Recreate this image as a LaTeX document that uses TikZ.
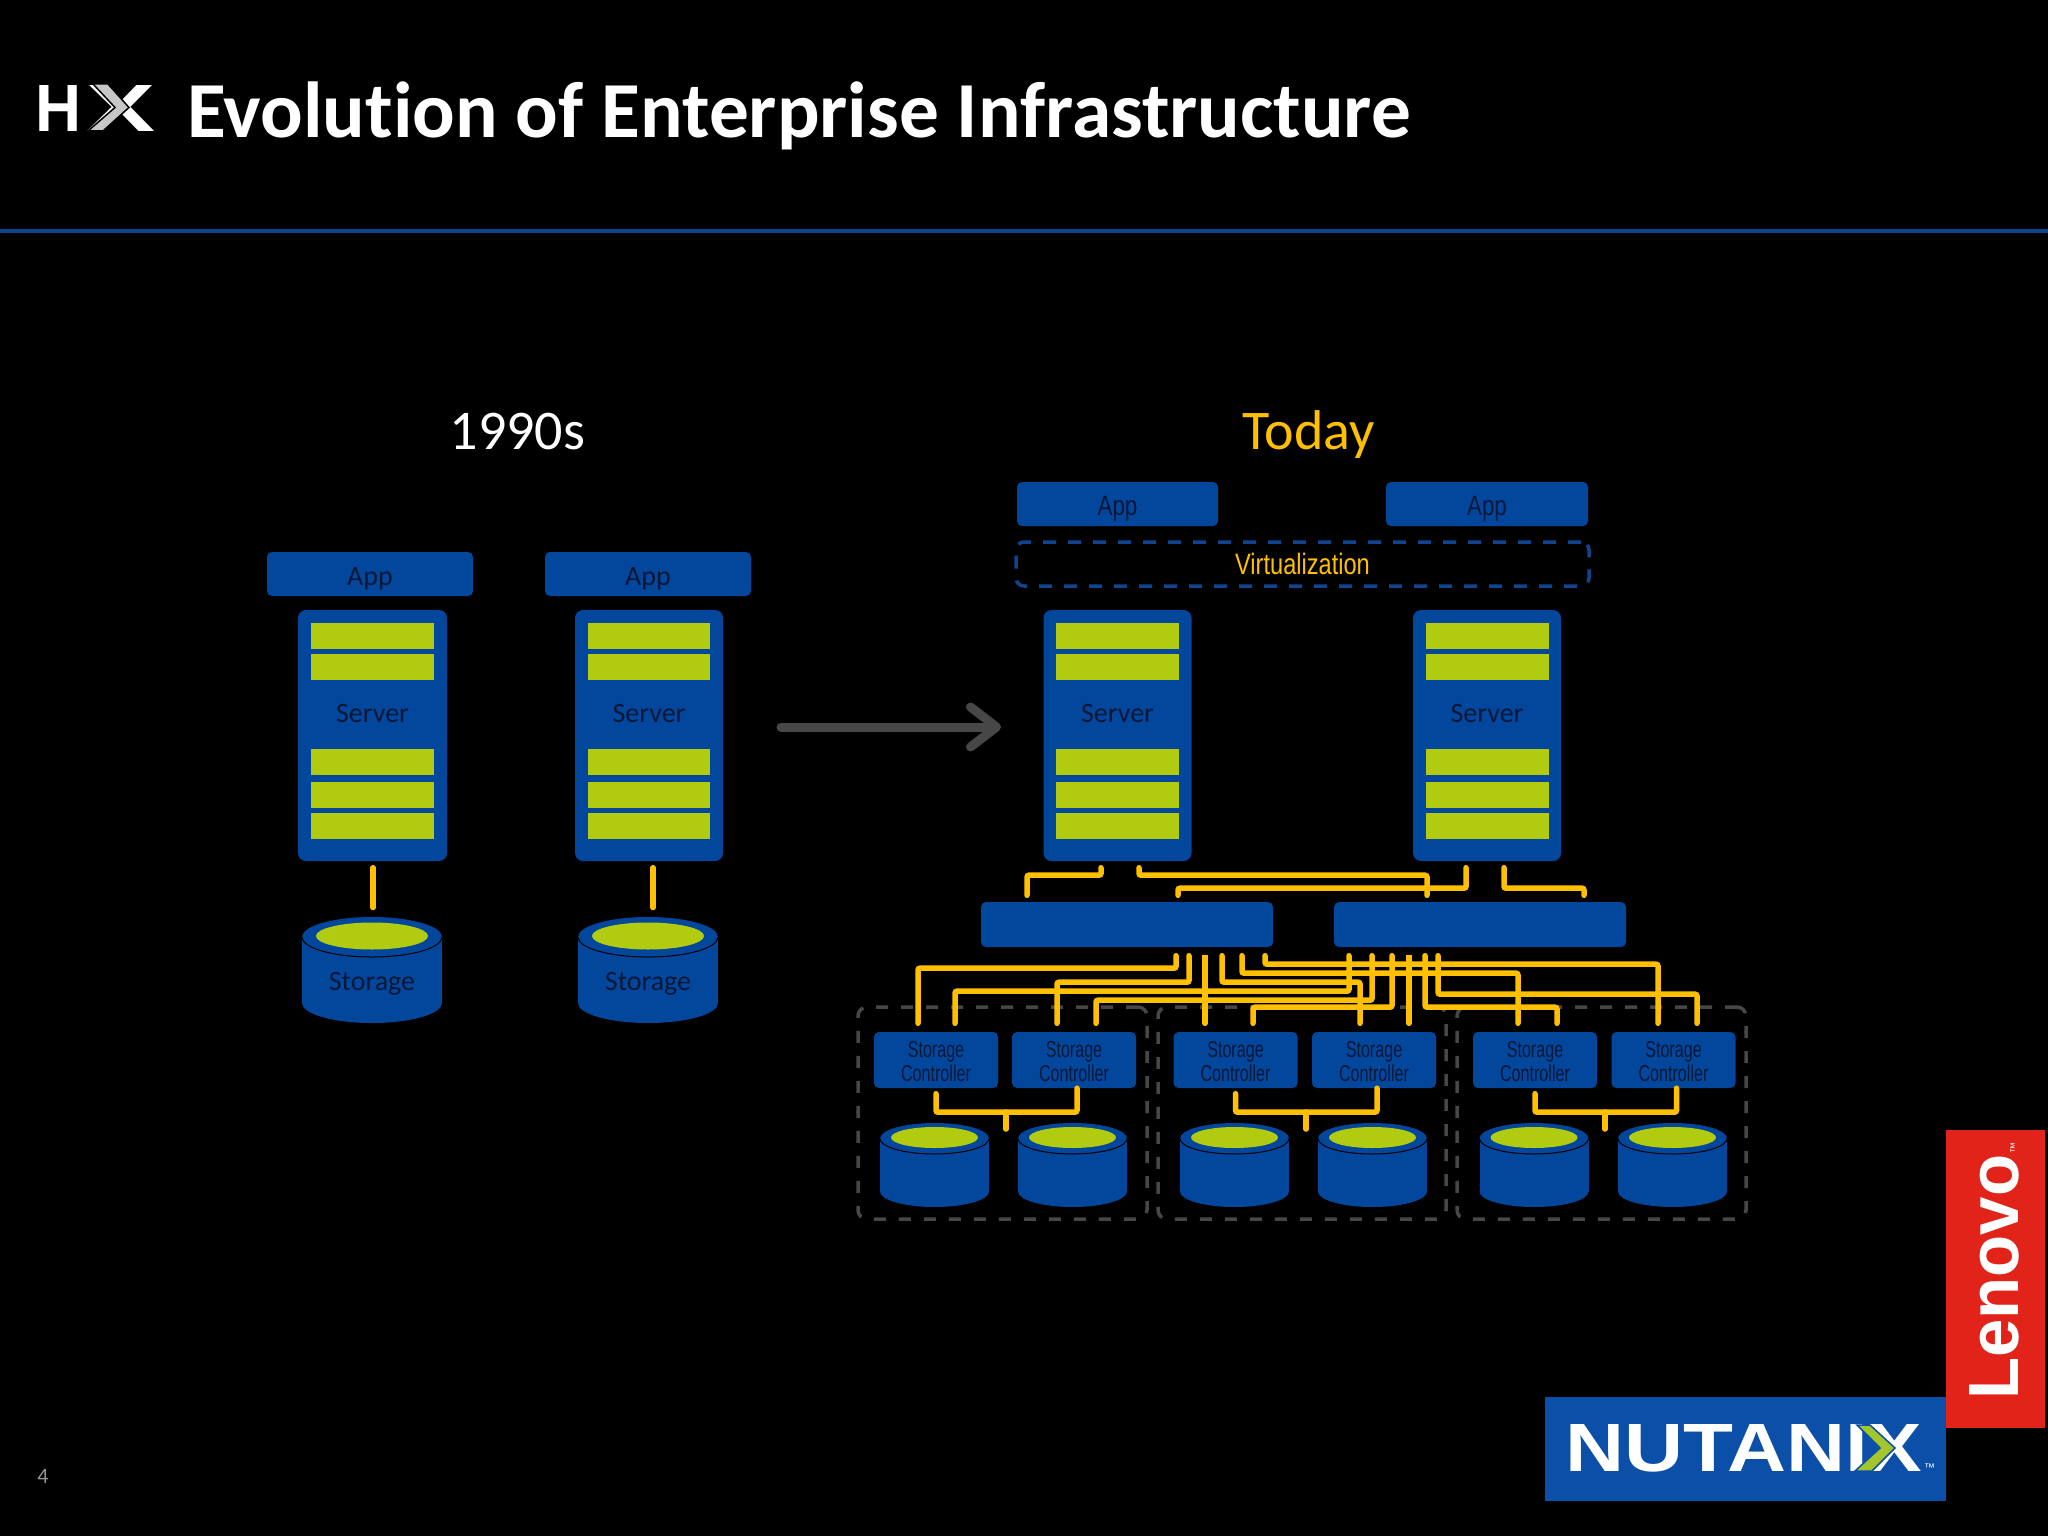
\documentclass[tikz,border=0pt]{standalone}
\usepackage{fontspec}
\usepackage{graphicx}
\setmainfont{Carlito}[Ligatures=NoCommon]
\newfontfamily\narrowfont[FakeStretch=0.8]{Liberation Sans}
\newfontfamily\tightfont[FakeStretch=0.7]{Liberation Sans}
\newfontfamily\logofont{Liberation Sans}
\usetikzlibrary{arrows.meta,positioning}
\definecolor{ink}{HTML}{061738}
\definecolor{panel}{HTML}{03479C}
\definecolor{rule}{HTML}{11448F}
\definecolor{wire}{HTML}{FFC000}
\definecolor{slotgreen}{HTML}{B0CB10}
\definecolor{dashgray}{HTML}{474747}
\definecolor{logored}{HTML}{E2231A}
\definecolor{logoblue}{HTML}{0B4FA8}
\definecolor{logogreen}{HTML}{A2C62B}
\tikzset{
box/.style={fill=panel,rounded corners=5pt,inner sep=0pt,text=ink},
appbox/.style={box,minimum height=44pt,text height=22pt,text depth=0pt},
srvbox/.style={fill=panel,rounded corners=8pt,inner sep=0pt,minimum height=251pt},
swbox/.style={box,minimum width=292pt,minimum height=45pt},
ctlbox/.style={box,minimum width=124pt,minimum height=56pt,align=center,font=\tightfont\fontsize{23}{24}\selectfont},
grpbox/.style={draw=dashgray,line width=3.5pt,dash pattern=on 12pt off 13pt,rounded corners=9pt,minimum width=289pt,minimum height=212pt,inner sep=0pt},
link/.style={draw=wire,line width=5.5pt,line cap=round,rounded corners=2pt},
lbl/.style={text=ink,inner sep=0pt,font=\fontsize{28}{28}\selectfont}
}
\begin{document}
\begin{tikzpicture}[x=1pt,y=-1pt,>=Stealth]
\fill[black](0,0)rectangle(2048,1536);
\useasboundingbox (0,0) rectangle (2048,1536);
% header
\fill[rule](0,229)rectangle(2048,233);
\node[text=white,inner sep=0pt,anchor=west,font=\logofont\bfseries] (hxlogo) at (35,108.5) {\resizebox{46pt}{46pt}{H}\hspace{5pt}\resizebox{69pt}{46pt}{X}};
\fill[white!78!black,draw=black,line width=1.5pt](88,131)--(115,107.5)--(93,84)--(108,84)--(129,107.5)--(103,131)--cycle;
\node[text=white,inner sep=0pt,anchor=base west,font=\bfseries\fontsize{79.4}{79.4}\selectfont] (title) at (187,138) {Evolution of Enterprise Infrastructure};
\node[text=white,inner sep=0pt,anchor=base,font=\fontsize{56}{56}\selectfont] (eraold) at (517.5,449) {1990s};
\node[text=wire,inner sep=0pt,anchor=base,font=\fontsize{56}{56}\selectfont] (eranew) at (1308.5,449) {Today};
% apps
\node[appbox,minimum width=206pt,font=\fontsize{28}{28}\selectfont] (appa) at (370,574) {App};
\node[appbox,minimum width=206pt,font=\fontsize{28}{28}\selectfont] (appb) at (648,574) {App};
\node[appbox,minimum width=201pt,font=\narrowfont\fontsize{28}{28}\selectfont] (appc) at (1117.5,504) {App};
\node[appbox,minimum width=202pt,font=\narrowfont\fontsize{28}{28}\selectfont] (appd) at (1487,504) {App};
\node[draw=rule,line width=3.5pt,dash pattern=on 13pt off 12pt,rounded corners=8pt,minimum width=573pt,minimum height=44pt,inner sep=0pt,text=wire,font=\narrowfont\fontsize{29.5}{30}\selectfont] (virt) at (1302.5,564) {Virtualization};
% servers
\foreach \nm/\cx/\bw/\sw in {srva/372.5/149/123,srvb/649/148/122,srvc/1117.5/148/123,srvd/1487/148/123}{
\node[srvbox,minimum width=\bw pt] (\nm) at (\cx,735.5) {};
\foreach \sy in {636,667,762,794.5,826}
\fill[slotgreen](\cx-\sw/2,\sy-13)rectangle(\cx+\sw/2,\sy+13);
\node[lbl] (\nm lbl) at (\cx,714) {Server};
}
% drums
\foreach \cx/\cy/\rx/\ry/\ix/\iy/\hh in {372/937/70/20/56/13.5/66,648/937/70/20/56/13.5/66,934.5/1138.5/54.5/15.5/43.5/10.5/53,1072.5/1138.5/54.5/15.5/43.5/10.5/53,1234.5/1138.5/54.5/15.5/43.5/10.5/53,1372.5/1138.5/54.5/15.5/43.5/10.5/53,1534/1138.5/54.5/15.5/43.5/10.5/53,1672.5/1138.5/54.5/15.5/43.5/10.5/53}{
\fill[panel](\cx,\cy+\hh) ellipse (\rx pt and \ry pt);
\fill[panel](\cx-\rx,\cy)rectangle(\cx+\rx,\cy+\hh);
\fill[panel](\cx,\cy) ellipse (\rx pt and \ry pt);
\draw[black,line width=1pt](\cx-\rx,\cy) arc[start angle=180,end angle=360,x radius=\rx pt,y radius=\ry pt];
\fill[slotgreen](\cx,\cy-1) ellipse (\ix pt and \iy pt);
}
\node[lbl] (stora) at (372,983.5) {Storage};
\node[lbl] (storb) at (648,983.5) {Storage};
\coordinate (dska) at (373,917);
\coordinate (dskb) at (653,917);
% dashed groups
\node[grpbox] (grpa) at (1002.5,1113) {};
\node[grpbox,minimum width=288pt] (grpb) at (1302,1113) {};
\node[grpbox] (grpc) at (1601.5,1113) {};
% switches
\node[swbox] (swa) at (1127,924.5) {};
\node[swbox] (swb) at (1480,924.5) {};
% controllers
\foreach \nm/\cx in {ctla/936,ctlb/1074,ctlc/1235.5,ctld/1374,ctle/1535,ctlf/1673.5}
\node[ctlbox] (\nm) at (\cx,1060) {\rule{0pt}{20pt}Storage\\Controller};
% wires
\draw[link,shorten <=6.5pt,shorten >=9.5pt] ([xshift=.5pt]srva.south) -- (dska);
\draw[link,shorten <=6.5pt,shorten >=9.5pt] ([xshift=4pt]srvb.south) -- (dskb);
\foreach \a/\ax/\dd/\b/\bx in {srvc/-16.5/14/swa/-100,srvc/21.5/14/swb/-53,srvd/-21/27/swa/51,srvd/17/27/swb/104}
\draw[link,shorten <=6.5pt,shorten >=6.5pt] ([xshift=\ax pt]\a.south) -- ++(0,\dd) -| ([xshift=\bx pt]\b.north);
\foreach \a/\ax/\dd/\b/\bx in {swa/49/21/ctla/-18,swa/62/35/ctlb/-17,swa/78/10/ctlc/-30.5,swa/95/35/ctld/-14,swa/115/26/ctle/-17,swa/138/17/ctlf/-15.5,swb/-131/44/ctla/19,swb/-108/53/ctlb/22,swb/-88/60/ctlc/17.5,swb/-71/10/ctld/35,swb/-55/60/ctle/22,swb/-42/47/ctlf/23.5}
\draw[link,shorten <=8.5pt,shorten >=8.5pt] ([xshift=\ax pt]\a.south) -- ++(0,\dd) -| ([xshift=\bx pt]\b.north);
\foreach \a/\b/\tx in {ctla/ctlb/1006,ctlc/ctld/1306,ctle/ctlf/1605}{
\draw[link,shorten <=5.5pt] (\a.south) -- ++(0,24) -| ([xshift=3pt]\b.south);
\coordinate (tee\a) at (\tx,1112);
\draw[link,shorten >=2.5pt] (tee\a) -- ++(0,19.5);
}
% arrow
\coordinate (arrowtail) at (781,727);
\coordinate (arrowhead) at (1001,727);
\draw[dashgray,line width=9pt,line cap=round,-{Straight Barb[length=26pt,width=40pt,line width=9pt,round]}] (arrowtail) -- (arrowhead);
% page number
\node[text=black!42!white,inner sep=0pt,font=\fontsize{22}{22}\selectfont] (pageno) at (43,1476) {4};
% logos
\fill[logored](1946,1130)rectangle(2045,1428);
\node[text=white,rotate=90,inner sep=0pt,anchor=base west,font=\logofont\bfseries] (lenovo) at (2018,1400) {\resizebox{245pt}{49pt}{Lenovo}};
\node[text=white,rotate=90,inner sep=0pt,anchor=base west,font=\logofont\fontsize{11}{11}\selectfont] (lenovotm) at (2018,1154) {™};
\fill[logoblue](1545,1397)rectangle(1946,1501);
\node[text=white,inner sep=0pt,anchor=west,font=\logofont\bfseries] (nutanix) at (1565,1448) {\resizebox{357pt}{47pt}{NUTANIX}};
\fill[logogreen,draw=logoblue,line width=1.5pt](1857,1425)--(1870,1425)--(1895,1448)--(1872,1471)--(1855,1471)--(1880,1448)--cycle;
\node[text=white,inner sep=0pt,anchor=west,font=\logofont\fontsize{11}{11}\selectfont] (nutanixtm) at (1924,1468) {™};
\end{tikzpicture}
\end{document}
